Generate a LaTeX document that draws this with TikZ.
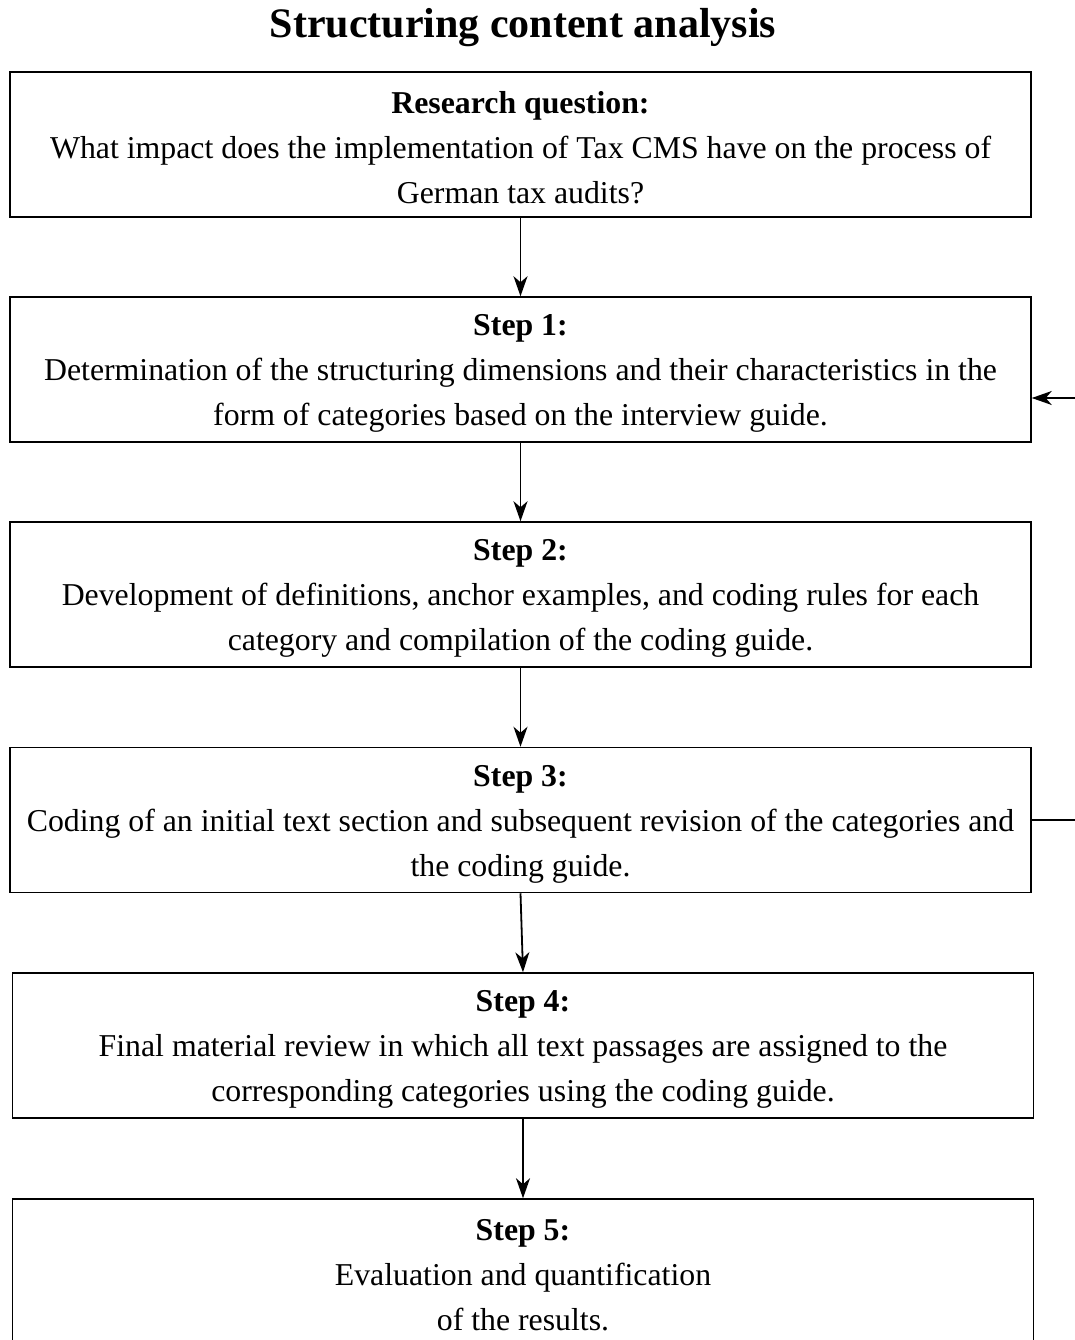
\documentclass[tikz,border=0pt]{standalone}
\usepackage{fontspec}
\setmainfont{Liberation Serif}
\usetikzlibrary{arrows.meta}
\newcommand{\topstrut}{\rule{0pt}{29pt}}
\begin{document}
\begin{tikzpicture}[x=1pt,y=-1pt,
 box/.style={draw, line width=1.5pt, minimum width=1021pt, minimum height=145pt, inner sep=0pt, align=center, font=\fontsize{31.8}{45}\selectfont},
 arr/.style={-{Stealth[length=20pt,width=14pt,inset=6pt]}, line width=1.8pt}]
\useasboundingbox (0,0) rectangle (1075,1340);
\clip (0,0) rectangle (1075,1340);
\node[font=\fontsize{42}{50}\selectfont\bfseries] (title) at (523,28) {Structuring content analysis};
\node[box] (rq) at (520.5,144.5) {\topstrut\textbf{Research question:}\\What impact does the implementation of Tax CMS have on the process of\\German tax audits?};
\node[box] (s1) at (520.5,369.5) {\topstrut\textbf{Step 1:}\\Determination of the structuring dimensions and their characteristics in the\\form of categories based on the interview guide.};
\node[box] (s2) at (520.5,594.5) {\topstrut\textbf{Step 2:}\\Development of definitions, anchor examples, and coding rules for each\\category and compilation of the coding guide.};
\node[box] (s3) at (520.5,820) {\topstrut\textbf{Step 3:}\\Coding of an initial text section and subsequent revision of the categories and\\the coding guide.};
\node[box] (s4) at (523,1045.5) {\topstrut\textbf{Step 4:}\\Final material review in which all text passages are assigned to the\\corresponding categories using the coding guide.};
\node[box] (s5) at (523,1271.5) {\topstrut\textbf{Step 5:}\\Evaluation and quantification\\of the results.};
\coordinate (fbA) at (1100,820);
\coordinate (fbB) at (1100,398);
\draw[arr] (rq.south) -- (s1.north);
\draw[arr] (s1.south) -- (s2.north);
\draw[arr] (s2.south) -- (s3.north);
\draw[arr] (s3.south) -- (s4.north);
\draw[arr] (s4.south) -- (s5.north);
\draw[arr] (s3.east |- fbA) -- (fbA) -- (fbB) -- (s1.east |- fbB);
\end{tikzpicture}
\end{document}
